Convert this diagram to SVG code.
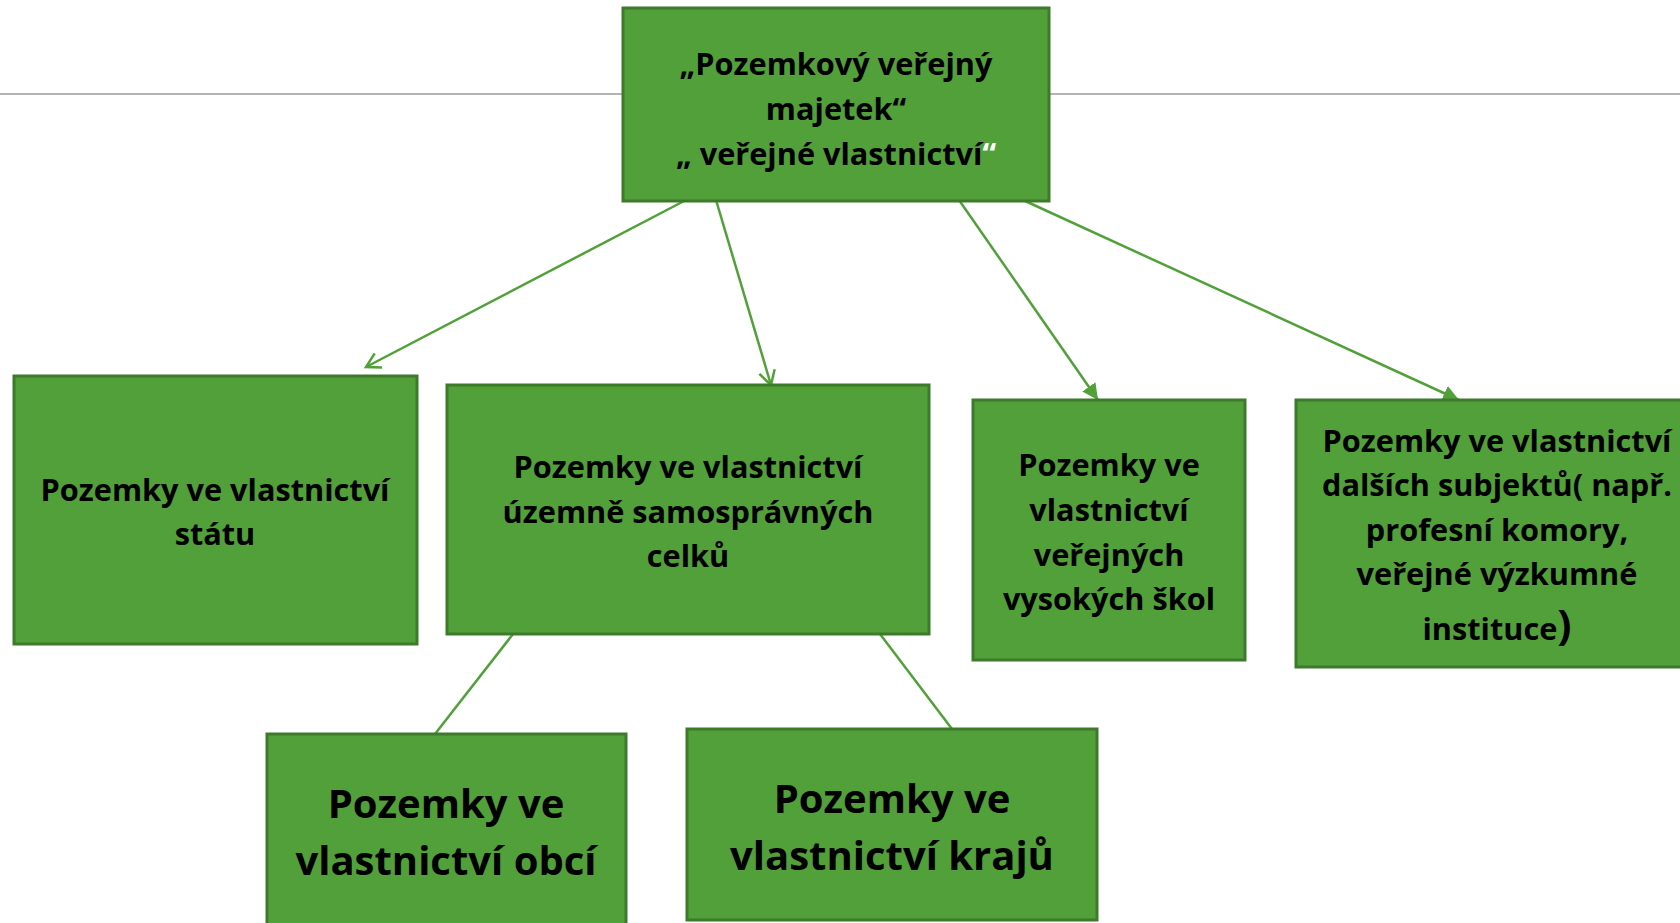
<svg xmlns="http://www.w3.org/2000/svg" width="1680" height="923" viewBox="0 0 1680 923">
  <defs>
    <style>
      .box { fill: #52A03A; stroke: #3E7A2B; stroke-width: 3; }
      .t { font-family: "Open Sans", "Noto Sans", "DejaVu Sans", sans-serif; font-weight: bold; font-size: 30.7px; fill: #000; text-anchor: middle; }
      .big { font-size: 40px; }
      .conn { stroke: #52A03A; stroke-width: 2.5; fill: none; }
    </style>
    <marker id="open" markerUnits="userSpaceOnUse" markerWidth="20" markerHeight="20" refX="17" refY="10" orient="auto">
      <path d="M3,2 L17,10 L3,18" fill="none" stroke="#52A03A" stroke-width="2.5"/>
    </marker>
    <marker id="tri" markerUnits="userSpaceOnUse" markerWidth="18" markerHeight="16" refX="16" refY="8" orient="auto">
      <path d="M0,0 L16,8 L0,16 z" fill="#52A03A"/>
    </marker>
  </defs>
  <rect width="1680" height="923" fill="#fff"/>
  <line x1="0" y1="94" x2="1680" y2="94" stroke="#9A9A9A" stroke-width="1.5"/>

  <g id="connectors">
    <line class="conn" x1="686" y1="200" x2="366" y2="367" marker-end="url(#open)"/>
    <line class="conn" x1="716" y1="200" x2="771" y2="385" marker-end="url(#open)"/>
    <line class="conn" x1="959" y1="200" x2="1098" y2="400" marker-end="url(#tri)"/>
    <line class="conn" x1="1023" y1="200" x2="1459" y2="400" marker-end="url(#tri)"/>
    <line class="conn" x1="513" y1="634" x2="435" y2="734"/>
    <line class="conn" x1="880" y1="634" x2="952" y2="729"/>
  </g>

  <g id="top">
    <rect class="box" x="623" y="8" width="426" height="193"/>
    <text class="t" x="836" y="75">„Pozemkový veřejný</text>
    <text class="t" x="836" y="120">majetek“</text>
    <text class="t" x="836" y="165">„ veřejné vlastnictví<tspan fill="#fff">“</tspan></text>
  </g>

  <g id="statu">
    <rect class="box" x="14" y="376" width="403" height="268"/>
    <text class="t" x="215" y="501">Pozemky ve vlastnictví</text>
    <text class="t" x="215" y="545">státu</text>
  </g>

  <g id="usc">
    <rect class="box" x="447" y="385" width="482" height="249"/>
    <text class="t" x="688" y="478">Pozemky ve vlastnictví</text>
    <text class="t" x="688" y="523">územně samosprávných</text>
    <text class="t" x="688" y="567">celků</text>
  </g>

  <g id="vs">
    <rect class="box" x="973" y="400" width="272" height="260"/>
    <text class="t" x="1109" y="476">Pozemky ve</text>
    <text class="t" x="1109" y="521">vlastnictví</text>
    <text class="t" x="1109" y="566">veřejných</text>
    <text class="t" x="1109" y="610">vysokých škol</text>
  </g>

  <g id="dalsi">
    <rect class="box" x="1296" y="400" width="402" height="267"/>
    <text class="t" x="1497" y="452">Pozemky ve vlastnictví</text>
    <text class="t" x="1497" y="496">dalších subjektů( např.</text>
    <text class="t" x="1497" y="541">profesní komory,</text>
    <text class="t" x="1497" y="585">veřejné výzkumné</text>
    <text class="t" x="1497" y="640">instituce<tspan font-size="42px">)</tspan></text>
  </g>

  <g id="obce">
    <rect class="box" x="267" y="734" width="359" height="200"/>
    <text class="t big" x="446" y="818">Pozemky ve</text>
    <text class="t big" x="446" y="875">vlastnictví obcí</text>
  </g>

  <g id="kraje">
    <rect class="box" x="687" y="729" width="410" height="191"/>
    <text class="t big" x="892" y="813">Pozemky ve</text>
    <text class="t big" x="892" y="870">vlastnictví krajů</text>
  </g>
</svg>
